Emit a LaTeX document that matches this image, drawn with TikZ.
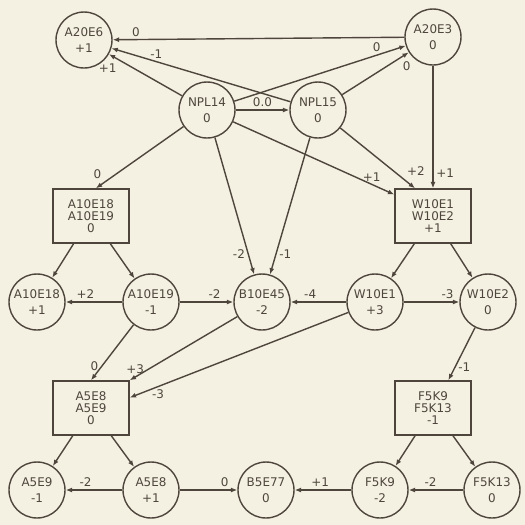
\documentclass[tikz,border=0pt]{standalone}
\usepackage{fontspec}
\setmainfont{DejaVu Sans}
\usetikzlibrary{arrows.meta,positioning}
\definecolor{ink}{HTML}{4E463C}
\definecolor{paper}{HTML}{F4F0E2}
\tikzset{%
	state/.style = {draw, circle, minimum size=1.12cm, inner sep=0pt, align=center, font=\fontsize{6.8}{9.4}\selectfont},
	group/.style = {draw, rectangle, minimum width=1.52cm, minimum height=1.08cm, inner sep=0pt, align=center, font=\fontsize{6.8}{6.8}\selectfont},
	arrow/.style = {-{Latex[length=3.6pt,width=2.8pt]}},
	lbl/.style   = {font=\fontsize{6.8}{7}\selectfont, inner sep=1.5pt},
}

\begin{document}
\begin{tikzpicture}[x=0.02cm, y=-0.02cm, line width=0.8pt, color=ink]
	\fill[paper] (0,0) rectangle (525,525);
	\useasboundingbox (0,0) rectangle (525,525);
	% top
	\node[state] (a20e6) at (84,40) {A20E6\\+1};
	\node[state] (a20e3) at (433,37) {A20E3\\0};
	\node[state] (npl14) at (207,110) {NPL14\\0};
	\node[state] (npl15) at (318,110) {NPL15\\0};
	% groups
	\node[group] (grpA10) at (91,216) {A10E18\\A10E19\\0};
	\node[group] (grpW10) at (433,216) {W10E1\\W10E2\\+1};
	\node[group] (grpA5) at (91,408) {A5E8\\A5E9\\0};
	\node[group] (grpF5) at (433,408) {F5K9\\F5K13\\-1};
	% middle row
	\node[state] (a10e18) at (37,302) {A10E18\\+1};
	\node[state] (a10e19) at (151,302) {A10E19\\-1};
	\node[state] (b10e45) at (262,302) {B10E45\\-2};
	\node[state] (w10e1) at (375,302) {W10E1\\+3};
	\node[state] (w10e2) at (488,302) {W10E2\\0};
	% bottom row
	\node[state] (a5e9) at (37,490) {A5E9\\-1};
	\node[state] (a5e8) at (151,490) {A5E8\\+1};
	\node[state] (b5e77) at (266,490) {B5E77\\0};
	\node[state] (f5k9) at (380,490) {F5K9\\-2};
	\node[state] (f5k13) at (492,490) {F5K13\\0};

	\draw[arrow] (a20e3) -- node[lbl,pos=0.92,above] {0} (a20e6);
	\draw[arrow] (npl15) -- node[lbl,pos=0.75,above] {-1} (a20e6);
	\draw[arrow] (npl14) -- node[lbl,pos=0.85,below left] {+1} (a20e6);
	\draw[arrow] (npl14) -- node[lbl,pos=0.83,above] {0} (a20e3);
	\draw[arrow] (npl15) -- node[lbl,pos=0.86,below right] {0} (a20e3);
	\draw[arrow] (npl14) -- node[lbl,above] {0.0} (npl15);
	\draw[arrow] (npl14) -- node[lbl,pos=0.9,above left] {0} (grpA10.80);
	\draw[arrow] (npl14) -- node[lbl,pos=0.85,left] {-2} (b10e45);
	\draw[arrow] (npl15) -- node[lbl,pos=0.85,right] {-1} (b10e45);
	\draw[arrow] (npl14) -- node[lbl,pos=0.86,above] {+1} (grpW10.151);
	\draw[arrow] (npl15) -- node[lbl,pos=0.85,above right] {+2} (grpW10.123);
	\draw[arrow] (a20e3) -- node[lbl,pos=0.88,right] {+1} (grpW10.north);

	\draw[arrow] (grpA10) -- (a10e18);
	\draw[arrow] (grpA10) -- (a10e19);
	\draw[arrow] (grpW10) -- (w10e1);
	\draw[arrow] (grpW10) -- (w10e2);
	\draw[arrow] (a10e19) -- node[lbl,pos=0.65,above] {+2} (a10e18);
	\draw[arrow] (a10e19) -- node[lbl,pos=0.65,above] {-2} (b10e45);
	\draw[arrow] (w10e1) -- node[lbl,pos=0.65,above] {-4} (b10e45);
	\draw[arrow] (w10e1) -- node[lbl,pos=0.79,above] {-3} (w10e2);

	\draw[arrow] (a10e19) -- node[lbl,pos=0.75,left] {0} (grpA5.north);
	\draw[arrow] (b10e45) -- node[lbl,pos=0.95,above] {+3} (grpA5.north east);
	\draw[arrow] (w10e1) -- node[lbl,pos=0.87,below] {-3} (grpA5.15);
	\draw[arrow] (w10e2) -- node[lbl,pos=0.75,right] {-1} (grpF5.61);

	\draw[arrow] (grpA5) -- (a5e9);
	\draw[arrow] (grpA5) -- (a5e8);
	\draw[arrow] (grpF5) -- (f5k9);
	\draw[arrow] (grpF5) -- (f5k13);
	\draw[arrow] (a5e8) -- node[lbl,pos=0.65,above] {-2} (a5e9);
	\draw[arrow] (a5e8) -- node[lbl,pos=0.78,above] {0} (b5e77);
	\draw[arrow] (f5k9) -- node[lbl,pos=0.55,above] {+1} (b5e77);
	\draw[arrow] (f5k13) -- node[lbl,pos=0.6,above] {-2} (f5k9);
\end{tikzpicture}
\end{document}
